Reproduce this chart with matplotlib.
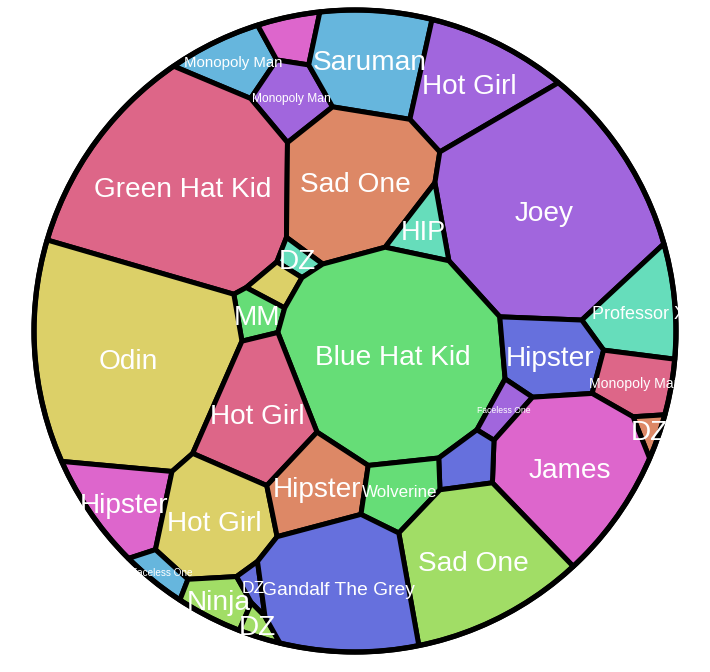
import numpy as np
import matplotlib
matplotlib.use('Agg')
import matplotlib.pyplot as plt
from matplotlib.patches import Polygon, Circle

# ---- data -------------------------------------------------------------
labels = ["Monopoly Man", "", "Monopoly Man", "Saruman", "Hot Girl",
          "Green Hat Kid", "Sad One", "Joey", "HIP", "DZ", "", "MM", "Odin",
          "Blue Hat Kid", "Professor X", "Hipster", "Monopoly Man",
          "Faceless One", "DZ", "Hot Girl", "James", "", "Hipster",
          "Hot Girl", "Hipster", "Wolverine", "Sad One", "Faceless One",
          "Ninja", "DZ", "DZ", "Gandalf The Grey"]
# cell areas (px^2)
values = [3989, 2169, 3927, 10478, 10674, 36932, 17840, 36903, 2310, 854,
          1285, 1759, 36103, 37170, 6539, 6875, 4182, 1546, 750, 11148,
          17904, 2479, 6404, 10977, 6857, 4183, 17817, 1241, 2458, 742, 719,
          17541]
# cell centres of the voronoi treemap
centre_x = [233.6, 291.7, 291.0, 370.0, 469.6, 182.8, 355.1, 544.1, 423.0,
            297.2, 276.4, 257.0, 128.0, 393.2, 639.2, 550.1, 635.1, 503.5,
            649.5, 257.7, 569.8, 468.0, 123.5, 214.6, 317.4, 399.7, 473.5,
            161.4, 218.5, 253.2, 257.9, 339.0]
centre_y = [61.7, 37.1, 98.1, 59.6, 84.1, 186.5, 181.9, 210.6, 230.3, 259.3,
            284.6, 314.8, 358.9, 354.7, 312.5, 356.1, 382.8, 409.8, 430.4,
            413.9, 467.9, 463.0, 502.3, 520.8, 487.4, 491.3, 561.4, 572.5,
            599.7, 586.3, 625.4, 588.4]
palette = {"pink": "#DD6688", "yellow": "#DCD068", "green": "#66DD77",
           "purple": "#A166DD", "blue": "#6670DD", "teal": "#66DDBB",
           "orange": "#DD8866", "magenta": "#DD66CC", "lightblue": "#66B6DD",
           "lightgreen": "#A1DD66"}
color_names = ["lightblue", "magenta", "purple", "lightblue", "purple", "pink",
               "orange", "purple", "teal", "teal", "yellow", "green", "yellow",
               "green", "teal", "blue", "pink", "purple", "orange", "pink",
               "magenta", "blue", "magenta", "yellow", "orange", "green",
               "lightgreen", "lightblue", "lightgreen", "blue", "lightgreen",
               "blue"]
font_px = [15, 0, 12, 28, 28, 28, 28, 28, 27, 28, 0, 28, 28, 28, 18, 28, 14,
           8.6, 28, 28, 28, 0, 28, 28, 28, 17, 28, 10, 28, 17.5, 28, 19.3]

# ---- power diagram (voronoi treemap) ---------------------------------
CX, CY, R = 355.0, 331.0, 321.0
th = np.linspace(0, 2 * np.pi, 361)[:-1]
disk = np.column_stack([CX + R * np.cos(th), CY + R * np.sin(th)])


def clip(poly, a, b):
    d = poly @ a - b
    ins = d <= 0
    if ins.all():
        return poly
    if not ins.any():
        return poly[:0]
    q = np.roll(poly, -1, axis=0)
    dq = np.roll(d, -1)
    cross = ins != np.roll(ins, -1)
    t = np.where(cross, d / np.where(cross, d - dq, 1.0), 0.0)
    inter = poly + t[:, None] * (q - poly)
    keep = np.column_stack([ins, cross]).ravel()
    pts = np.stack([poly, inter], axis=1).reshape(-1, 2)
    return pts[keep]


def parea(p):
    if len(p) < 3:
        return 0.0
    x, y = p[:, 0], p[:, 1]
    return 0.5 * abs(np.dot(x, np.roll(y, -1)) - np.dot(y, np.roll(x, -1)))


def pcentroid(p):
    x, y = p[:, 0], p[:, 1]
    x1, y1 = np.roll(x, -1), np.roll(y, -1)
    c = x * y1 - x1 * y
    a = c.sum() / 2
    return np.array([((x + x1) * c).sum() / (6 * a), ((y + y1) * c).sum() / (6 * a)])


goal = np.column_stack([centre_x, centre_y])
n = len(goal)
target = np.array(values, float) / np.sum(values) * parea(disk)


def power_cells(P, w):
    sq = (P ** 2).sum(1)
    out = []
    for i in range(n):
        poly = disk
        for j in np.argsort(((P - P[i]) ** 2).sum(1)):
            if j == i:
                continue
            poly = clip(poly, 2 * (P[j] - P[i]), sq[j] - sq[i] + w[i] - w[j])
            if len(poly) == 0:
                break
        out.append(poly)
    return out


P = goal.copy()
w = target / np.pi
for it in range(260):
    cells = power_cells(P, w)
    areas = np.array([parea(c) for c in cells])
    w = w + 0.9 * (target - areas) / np.pi
    if it >= 20:
        for i, c in enumerate(cells):
            if len(c) >= 3 and areas[i] > 1:
                P[i] += 0.5 * (goal[i] - pcentroid(c))
cells = power_cells(P, w)

# ---- draw --------------------------------------------------------------
fig = plt.figure(figsize=(7.1, 6.72), dpi=100)
ax = fig.add_axes([0, 0, 1, 1])
ax.set_xlim(0, 710)
ax.set_ylim(672, 0)
ax.axis('off')

for i, c in enumerate(cells):
    if len(c) < 3:
        continue
    ax.add_patch(Polygon(c, closed=True, facecolor=palette[color_names[i]],
                         edgecolor='black', linewidth=3.6, joinstyle='round'))
ax.add_patch(Circle((CX, CY), R, fill=False, edgecolor='black', linewidth=3.8))

clip_circle = Circle((CX, CY), R + 2.5, transform=ax.transData)
for i, c in enumerate(cells):
    if not labels[i] or len(c) < 3:
        continue
    cx, cy = pcentroid(c)
    fs = font_px[i]
    t = ax.text(cx, cy + 0.358 * fs, labels[i], fontsize=fs * 0.72,
                color='white', ha='center', va='baseline',
                family=['Liberation Sans', 'DejaVu Sans'])
    t.set_clip_path(clip_circle)

fig.savefig('out.png', dpi=100)
